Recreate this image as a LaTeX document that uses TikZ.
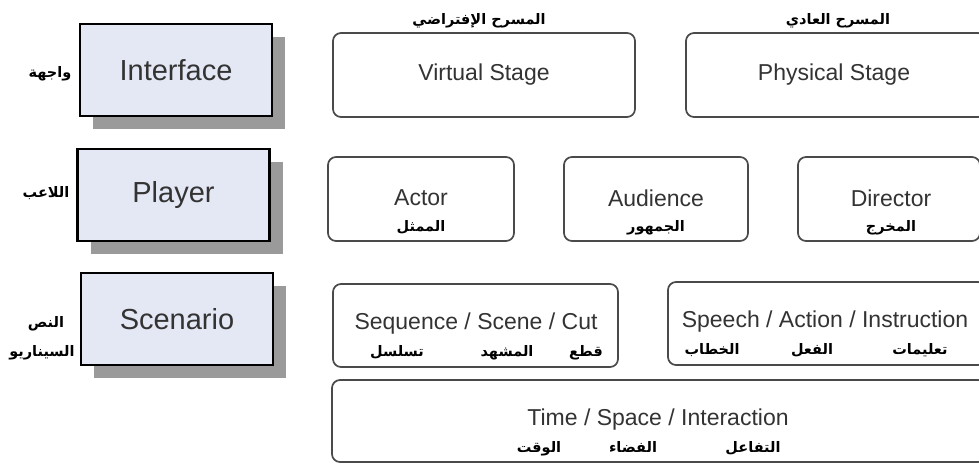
\documentclass[tikz,border=0pt]{standalone}
\usepackage{fontspec}
\setmainfont{Liberation Sans}
\newfontfamily\arabicfont[Script=Arabic]{DejaVu Sans}
\TeXXeTstate=1
\usetikzlibrary{shadows}
\definecolor{layerfill}{HTML}{E4E8F5}
\definecolor{shadowgray}{HTML}{9A9A9A}
\definecolor{txtgray}{HTML}{333333}
\definecolor{boxline}{HTML}{4A4A4A}
\tikzset{
  layerbox/.style={draw=black, line width=2.6pt, fill=layerfill, minimum width=192pt, minimum height=92pt,
    inner sep=0pt, text=txtgray, font=\fontsize{29}{32}\selectfont,
    drop shadow={shadow xshift=13pt, shadow yshift=-13pt, fill=shadowgray, opacity=1}},
  itembox/.style={draw=boxline, line width=1.7pt, rounded corners=8pt, fill=white, inner sep=0pt},
  entxt/.style={text=txtgray, font=\fontsize{23}{26}\selectfont, inner sep=0pt},
  artxt/.style={text=black, font=\arabicfont\bfseries\fontsize{14.5}{16}\selectfont, inner sep=0pt,
    anchor=base, yshift=-5pt},
}
\begin{document}
\begin{tikzpicture}[x=1pt,y=-1pt]
\clip (0,0) rectangle (979,466);
\fill[white] (0,0) rectangle (979,466);

% left layer boxes
\node[layerbox] (interface) at (176,70) {Interface};
\node[layerbox] (player) at (173.5,195) {Player};
\node[layerbox] (scenario) at (177,319) {Scenario};

% left Arabic labels
\node[artxt] (lInterface) at (50,72) {\beginR واجهة\endR};
\node[artxt] (lPlayer) at (46,192) {\beginR اللاعب\endR};
\node[artxt] (lScen1) at (46,322) {\beginR النص\endR};
\node[artxt] (lScen2) at (42,351) {\beginR السيناريو\endR};

% interface row
\node[artxt] (tVirtual) at (479,19) {\beginR المسرح الإفتراضي\endR};
\node[artxt] (tPhysical) at (838,19) {\beginR المسرح العادي\endR};
\node[itembox, minimum width=302pt, minimum height=84pt] (virtual) at (484,75) {};
\node[entxt] at (virtual.center) {Virtual Stage};
\node[itembox, minimum width=300pt, minimum height=84pt] (physical) at (836,75) {};
\node[entxt] at (834,75) {Physical Stage};

% player row
\node[itembox, minimum width=186pt, minimum height=84pt] (actor) at (421,199) {};
\node[entxt] (actorEn) at (421,198) {Actor};
\node[artxt] (actorAr) at (421,226) {\beginR الممثل\endR};
\node[itembox, minimum width=184pt, minimum height=84pt] (audience) at (656,199) {};
\node[entxt] (audienceEn) at (656,198) {Audience};
\node[artxt] (audienceAr) at (656,226) {\beginR الجمهور\endR};
\node[itembox, minimum width=182pt, minimum height=84pt] (director) at (889,199) {};
\node[entxt] (directorEn) at (891,198) {Director};
\node[artxt] (directorAr) at (891,226) {\beginR المخرج\endR};

% scenario row
\node[itembox, minimum width=285pt, minimum height=83pt] (sequence) at (475.5,325.5) {};
\node[entxt] (sequenceEn) at (476,324) {Sequence / Scene / Cut};
\node[artxt] (seqAr1) at (397,351) {\beginR تسلسل\endR};
\node[artxt] (seqAr2) at (507,351) {\beginR المشهد\endR};
\node[artxt] (seqAr3) at (586,351) {\beginR قطع\endR};

\node[itembox, minimum width=318pt, minimum height=83pt] (speech) at (827,323.5) {};
\node[entxt] (speechEn) at (825,322) {Speech / Action / Instruction};
\node[artxt] (spAr1) at (712,349) {\beginR الخطاب\endR};
\node[artxt] (spAr2) at (812,349) {\beginR الفعل\endR};
\node[artxt] (spAr3) at (920,349) {\beginR تعليمات\endR};

\node[itembox, minimum width=654pt, minimum height=82pt] (timebox) at (659,421) {};
\node[entxt] (timeEn) at (658,420) {Time / Space / Interaction};
\node[artxt] (tmAr1) at (539,447) {\beginR الوقت\endR};
\node[artxt] (tmAr2) at (633,447) {\beginR الفضاء\endR};
\node[artxt] (tmAr3) at (753,447) {\beginR التفاعل\endR};
\end{tikzpicture}
\end{document}
